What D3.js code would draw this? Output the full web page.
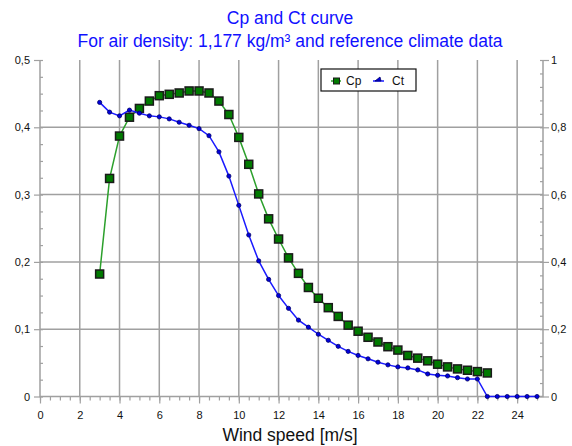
<!DOCTYPE html>
<html><head><meta charset="utf-8">
<script src="https://cdn.jsdelivr.net/npm/d3@7"></script>
<style>
html,body{margin:0;padding:0;background:#fff;}
svg{display:block;font-family:"Liberation Sans",Arial,sans-serif;}
</style></head>
<body>
<svg id="c" width="572" height="446"></svg>
<script>
const titleLines = ["Cp and Ct curve", "For air density: 1,177 kg/m³ and reference climate data"];
const xLabel = "Wind speed [m/s]";
const xTicks = [0,2,4,6,8,10,12,14,16,18,20,22,24];
const leftTicks = [0,0.1,0.2,0.3,0.4,0.5];
const rightTicks = [0,0.2,0.4,0.6,0.8,1];
const seriesNames = ["Cp","Ct"];
const windCp = [3,3.5,4,4.5,5,5.5,6,6.5,7,7.5,8,8.5,9,9.5,10,10.5,11,11.5,12,12.5,13,13.5,14,14.5,15,15.5,16,16.5,17,17.5,18,18.5,19,19.5,20,20.5,21,21.5,22,22.5];
const cpValues = [0.182,0.324,0.387,0.415,0.428,0.439,0.447,0.449,0.451,0.454,0.454,0.451,0.439,0.419,0.385,0.345,0.301,0.264,0.234,0.206,0.183,0.162,0.146,0.132,0.119,0.106,0.097,0.088,0.081,0.074,0.069,0.061,0.057,0.053,0.048,0.044,0.041,0.039,0.037,0.035];
const windCt = [3,3.5,4,4.5,5,5.5,6,6.5,7,7.5,8,8.5,9,9.5,10,10.5,11,11.5,12,12.5,13,13.5,14,14.5,15,15.5,16,16.5,17,17.5,18,18.5,19,19.5,20,20.5,21,21.5,22,22.5,23,23.5,24,24.5,25];
const ctValues = [0.874,0.845,0.834,0.851,0.842,0.834,0.831,0.825,0.815,0.806,0.796,0.775,0.727,0.655,0.568,0.480,0.403,0.348,0.300,0.262,0.227,0.206,0.185,0.167,0.149,0.134,0.122,0.112,0.102,0.094,0.088,0.085,0.079,0.067,0.063,0.061,0.056,0.052,0.052,0,0,0,0,0,0];

const svg = d3.select("#c");
const L = 40, R = 543, T = 60, B = 396.5;
const x = d3.scaleLinear().domain([0,25.3]).range([L,R]);
const yL = d3.scaleLinear().domain([0,0.5]).range([B,T]);
const yR = d3.scaleLinear().domain([0,1]).range([B,T]);
const fmt = d => d === 0 ? "0" : (d === 1 ? "1" : d3.format(".1f")(d).replace(".", ","));
const gridC = "#a0a0a0";

// titles
svg.append("text").attr("x",290).attr("y",24).attr("text-anchor","middle")
  .attr("fill","#1010ff").attr("font-size",17.5).text(titleLines[0]);
svg.append("text").attr("x",290).attr("y",47).attr("text-anchor","middle")
  .attr("fill","#1010ff").attr("font-size",17.5).text(titleLines[1]);

// grid
const g = svg.append("g");
g.selectAll(".vg").data(xTicks.filter(d=>d>0)).join("line")
  .attr("x1",d=>x(d)).attr("x2",d=>x(d)).attr("y1",T).attr("y2",B)
  .attr("stroke",gridC).attr("stroke-width",1.5);
g.selectAll(".hg").data(leftTicks.filter(d=>d>0 && d<0.5)).join("line")
  .attr("x1",L).attr("x2",R).attr("y1",d=>yL(d)).attr("y2",d=>yL(d))
  .attr("stroke",gridC).attr("stroke-width",1.5);

function styleAxis(sel){
  sel.select(".domain").remove();
  sel.selectAll("line").attr("stroke",gridC).attr("stroke-width",1.2);
  sel.selectAll("text").attr("fill","#111").attr("font-size",11);
}
// minor ticks
const minorLeft = d3.range(0,0.5001,0.025);
const minorRight = d3.range(0,1.0001,0.04);
const minorX = d3.range(0,25.01,0.5);
svg.append("g").attr("transform",`translate(${L},0)`)
  .call(d3.axisRight(yL).tickValues(minorLeft).tickSize(3).tickFormat(""))
  .call(styleAxis);
svg.append("g").attr("transform",`translate(${R},0)`)
  .call(d3.axisLeft(yR).tickValues(minorRight).tickSize(3).tickFormat(""))
  .call(styleAxis);
svg.append("g").attr("transform",`translate(0,${B})`)
  .call(d3.axisBottom(x).tickValues(minorX).tickSize(4).tickFormat(""))
  .call(styleAxis);
// major axes
svg.append("g").attr("transform",`translate(${L},0)`)
  .call(d3.axisLeft(yL).tickValues(leftTicks).tickSize(6).tickPadding(4).tickFormat(fmt))
  .call(styleAxis);
svg.append("g").attr("transform",`translate(${R},0)`)
  .call(d3.axisRight(yR).tickValues(rightTicks).tickSize(6).tickPadding(2).tickFormat(fmt))
  .call(styleAxis);
svg.append("g").attr("transform",`translate(0,${B})`)
  .call(d3.axisBottom(x).tickValues(xTicks).tickSize(7).tickPadding(8).tickFormat(d3.format("d")))
  .call(styleAxis);
// axis lines
svg.append("path").attr("d",`M${L},${T}V${B}H${R}V${T}`).attr("fill","none")
  .attr("stroke",gridC).attr("stroke-width",1.5);

// x label
svg.append("text").attr("x",290).attr("y",441).attr("text-anchor","middle")
  .attr("fill","#111").attr("font-size",17.5).text(xLabel);

// Cp series
const cpData = windCp.map((w,i)=>({w,v:cpValues[i]}));
const ctData = windCt.map((w,i)=>({w,v:ctValues[i]}));
svg.append("path").datum(cpData)
  .attr("d",d3.line().x(d=>x(d.w)).y(d=>yL(d.v)))
  .attr("fill","none").attr("stroke","#2ca02c").attr("stroke-width",1.5);
svg.selectAll(".cp").data(cpData).join("rect")
  .attr("x",d=>x(d.w)-4).attr("y",d=>yL(d.v)-4).attr("width",8).attr("height",8)
  .attr("fill","#007a00").attr("stroke","#1a1a1a").attr("stroke-width",1.5);
// Ct series
svg.append("path").datum(ctData)
  .attr("d",d3.line().x(d=>x(d.w)).y(d=>yR(d.v)))
  .attr("fill","none").attr("stroke","#1a1aff").attr("stroke-width",1.5);
svg.selectAll(".ct").data(ctData).join("circle")
  .attr("cx",d=>x(d.w)).attr("cy",d=>yR(d.v)).attr("r",2.1)
  .attr("fill","#0000dd").attr("stroke","#000066").attr("stroke-width",0.8);

// legend
const lg = svg.append("g");
lg.append("rect").attr("x",321).attr("y",69).attr("width",95).attr("height",22)
  .attr("fill","#fff").attr("stroke","#111").attr("stroke-width",1.2);
lg.append("line").attr("x1",331).attr("x2",341).attr("y1",81).attr("y2",81)
  .attr("stroke","#2ca02c").attr("stroke-width",1.5);
lg.append("rect").attr("x",333.5).attr("y",78).attr("width",6).attr("height",6)
  .attr("fill","#007a00").attr("stroke","#1a1a1a").attr("stroke-width",1);
lg.append("text").attr("x",346).attr("y",85).attr("font-size",12).attr("fill","#111").text(seriesNames[0]);
lg.append("line").attr("x1",373).attr("x2",384).attr("y1",81).attr("y2",81)
  .attr("stroke","#1a1aff").attr("stroke-width",1.5);
lg.append("path").attr("d","M375,81L380,77L381,81Z").attr("fill","#0000dd").attr("stroke","#000066").attr("stroke-width",0.8);
lg.append("text").attr("x",392).attr("y",85).attr("font-size",12).attr("fill","#111").text(seriesNames[1]);
</script>
</body></html>
